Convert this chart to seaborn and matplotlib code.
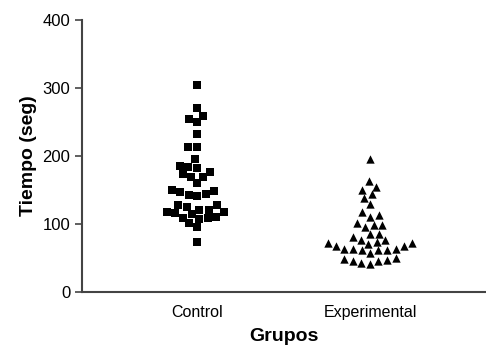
import pandas as pd
import matplotlib
matplotlib.use("Agg")
import matplotlib.pyplot as plt
import seaborn as sns

# values (seconds)
control = [304, 270, 259, 254, 250, 233, 213, 213, 195, 184, 186, 183,
           169, 174, 176, 169, 160, 148, 144, 141, 143, 147, 150,
           128, 125, 128, 121, 117, 117, 121, 108, 110, 115, 116, 109,
           109, 101, 96, 74]
experimental = [196, 163, 155, 150, 144, 138, 129, 117, 113, 111,
                101, 98, 96, 98, 86, 86, 81, 76, 72, 74, 76, 72, 70,
                68, 64, 64, 62, 58, 62, 62, 64, 68,
                50, 47, 45, 41, 42, 46, 48]
groups = ["Control", "Experimental"]
markers = ["s", "^"]

df = pd.DataFrame({
    "Grupos": [groups[0]] * len(control) + [groups[1]] * len(experimental),
    "Tiempo": control + experimental,
})

sns.set_style("ticks")
plt.rcParams["font.family"] = ["Liberation Sans", "DejaVu Sans"]

fig = plt.figure(figsize=(4.86, 3.47), dpi=100)
ax = fig.add_axes([0.169, 0.1585, 0.831, 0.7835])

for g, m in zip(groups, markers):
    sub = df[df["Grupos"] == g]
    sns.swarmplot(data=sub, x="Grupos", y="Tiempo", order=groups, marker=m,
                  color="black", size=6, ax=ax)

ax.set_xlim(-0.665, 1.67)
ax.set_ylim(0, 400)
ax.set_yticks([0, 100, 200, 300, 400])
ax.tick_params(axis="y", labelsize=12, length=5, width=1.2, colors="#444444",
               labelcolor="black")
ax.tick_params(axis="x", labelsize=11.5, length=0, pad=9, labelcolor="black")
for s in ["top", "right"]:
    ax.spines[s].set_visible(False)
for s in ["left", "bottom"]:
    ax.spines[s].set_linewidth(1.5)
    ax.spines[s].set_color("#444444")
ax.set_xlabel("Grupos", fontsize=14, fontweight="bold", labelpad=6, color="black")
ax.set_ylabel("Tiempo (seg)", fontsize=14, fontweight="bold", labelpad=4, color="black")

fig.savefig("out.png", dpi=100)
